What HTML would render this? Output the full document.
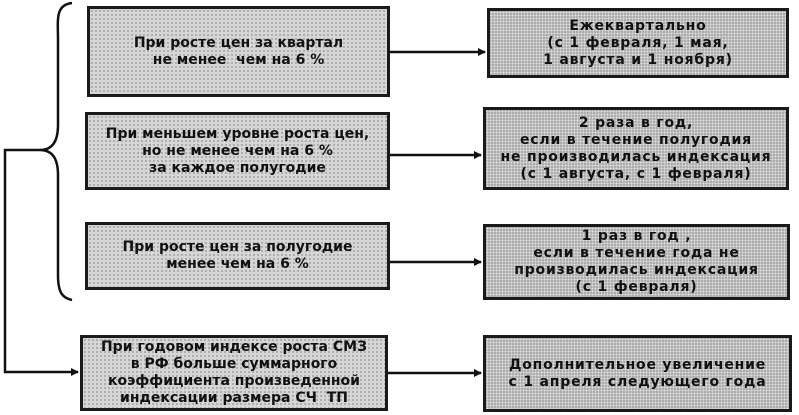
<!DOCTYPE html>
<html><head><meta charset="utf-8"><style>
body{margin:0;width:799px;height:415px;background:#fff;position:relative;overflow:hidden;font-family:"DejaVu Sans","Liberation Sans",sans-serif;}
.b{position:absolute;box-sizing:border-box;border:3px solid #1a1a1a;display:flex;align-items:center;justify-content:center;text-align:center;font-weight:bold;font-size:14px;line-height:17px;color:#111;white-space:nowrap;}
.l{background-color:#d6d6d6;background-image:radial-gradient(#a0a0a0 0.8px,transparent 1px);background-size:4px 4px;}
.r{background-color:#adadad;background-image:radial-gradient(#e0e0e0 0.8px,transparent 1px);background-size:3px 3px;letter-spacing:0.8px;}
svg{position:absolute;left:0;top:0}
</style></head><body>
<svg width="799" height="415">
<defs><marker id="a" markerWidth="8" markerHeight="8" refX="7" refY="4" orient="auto" markerUnits="userSpaceOnUse"><path d="M0,0 L8,4 L0,8z" fill="#111"/></marker></defs>
<g stroke="#111" stroke-width="2.5" fill="none">
<path d="M72,3 C55,5 58,20 58,40 L58,125 C58,142 52,150 40,150 C52,150 58,158 58,175 L58,275 C58,292 62,298 72,300"/>
<path d="M40,150 L5,150 L5,372 L78,372" marker-end="url(#a)"/>
<path d="M390,52 L485,52" marker-end="url(#a)"/>
<path d="M390,155 L481,155" marker-end="url(#a)"/>
<path d="M390,262 L481,262" marker-end="url(#a)"/>
<path d="M388,373 L481,373" marker-end="url(#a)"/>
</g></svg>
<div class="b l" style="left:87px;top:6px;width:303px;height:91px">При росте цен за квартал<br>не менее&nbsp; чем на 6 %</div>
<div class="b l" style="left:85px;top:112px;width:305px;height:78px">При меньшем уровне роста цен,<br>но не менее чем на 6 %<br>за каждое полугодие</div>
<div class="b l" style="left:85px;top:222px;width:305px;height:68px">При росте цен за полугодие<br>менее чем на 6 %</div>
<div class="b l" style="left:80px;top:335px;width:308px;height:76px">При годовом индексе роста СМЗ<br>в РФ больше суммарного<br>коэффициента произведенной<br>индексации размера СЧ&nbsp; ТП</div>
<div class="b r" style="left:487px;top:8px;width:302px;height:70px">Ежеквартально<br>(с 1 февраля, 1 мая,<br>1 августа и 1 ноября)</div>
<div class="b r" style="left:483px;top:107px;width:306px;height:83px">2 раза в год,<br>если в течение полугодия<br>не производилась индексация<br>(с 1 августа, с 1 февраля)</div>
<div class="b r" style="left:483px;top:224px;width:307px;height:76px">1 раз в год ,<br>если в течение года не<br>производилась индексация<br>(с 1 февраля)</div>
<div class="b r" style="left:483px;top:335px;width:309px;height:77px">Дополнительное увеличение<br>с 1 апреля следующего года</div>
</body></html>
